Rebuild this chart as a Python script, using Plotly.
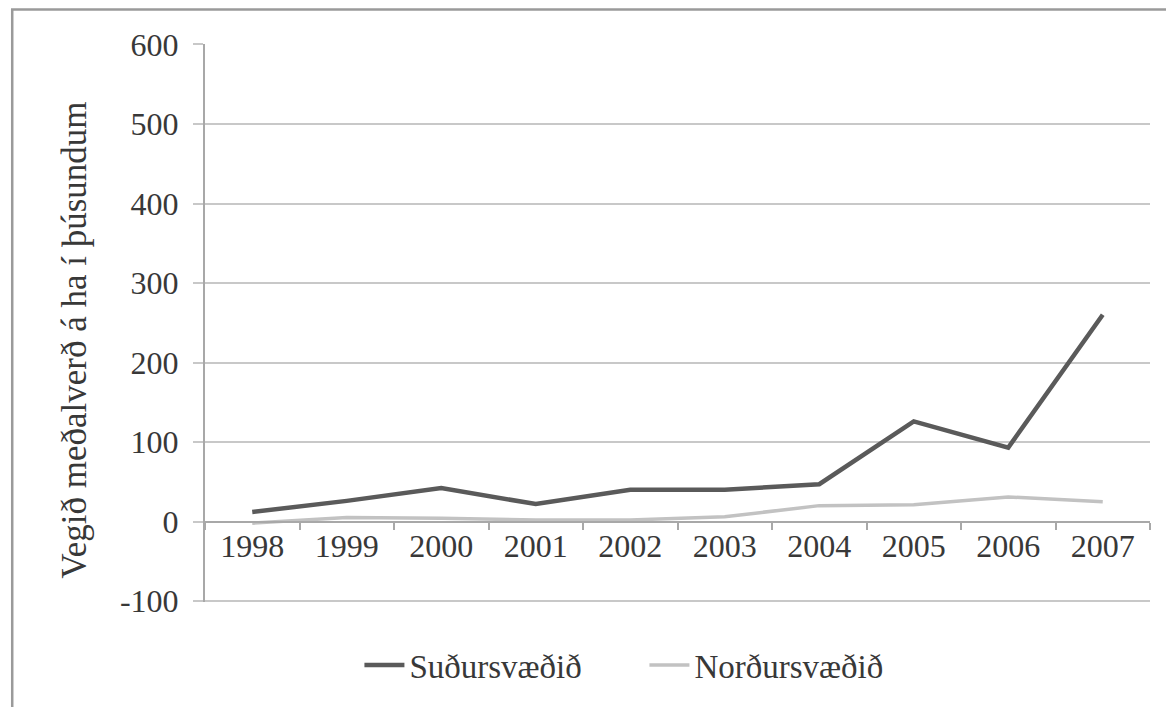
import plotly.graph_objects as go

years = ["1998", "1999", "2000", "2001", "2002", "2003", "2004", "2005", "2006", "2007"]
sudur = [12, 26, 42, 22, 40, 40, 47, 126, 93, 260]
nordur = [-2, 5, 4, 2, 2, 6, 20, 21, 31, 25]
y_ticks = [-100, 0, 100, 200, 300, 400, 500, 600]
y_labels = ["-100", "0", "100", "200", "300", "400", "500", "600"]
y_title = "Vegið meðalverð á ha í þúsundum"

FONT = "Liberation Serif, Times New Roman, serif"
TXT = "#383838"
GRID = "#c8c8c8"
YMIN, YMAX = -101.2, 600.6

fig = go.Figure()
fig.add_trace(go.Scatter(x=years, y=sudur, mode="lines", name="Suðursvæðið",
                         line=dict(color="#5a5a5a", width=4.5)))
fig.add_trace(go.Scatter(x=years, y=nordur, mode="lines", name="Norðursvæðið",
                         line=dict(color="#c2c2c2", width=3.5)))

fig.update_layout(
    width=1166, height=699,
    margin=dict(l=197, r=24, t=36, b=105),
    paper_bgcolor="white", plot_bgcolor="white",
    font=dict(family=FONT, size=32, color=TXT),
    showlegend=True,
    legend=dict(orientation="h", x=0.465, xanchor="center", y=-0.113, yanchor="middle",
                font=dict(family=FONT, size=33, color=TXT),
                itemwidth=40, entrywidth=230, tracegroupgap=0),
    xaxis=dict(
        type="category", categoryorder="array", categoryarray=years,
        range=[-0.5, 9.5],
        anchor="free", position=(0 - YMIN) / (YMAX - YMIN),
        showline=True, linecolor="#a8a8a8", linewidth=2,
        ticks="outside", tickson="boundaries", ticklen=7, tickcolor="#a8a8a8", tickwidth=2,
        ticklabelstandoff=-4,
        showgrid=False,
        tickfont=dict(family=FONT, size=32, color=TXT),
    ),
    yaxis=dict(
        range=[YMIN, YMAX], tickvals=y_ticks, ticktext=y_labels,
        showline=True, linecolor="#a8a8a8", linewidth=2,
        showgrid=True, gridcolor=GRID, gridwidth=2,
        zeroline=False,
        ticks="outside", ticklen=10, tickcolor=GRID, tickwidth=2,
        ticklabelstandoff=8,
        tickfont=dict(family=FONT, size=32, color=TXT),
    ),
    annotations=[
        dict(text=y_title, textangle=-90, xref="paper", yref="paper",
             x=-0.1376, y=0.47, xanchor="center", yanchor="middle", showarrow=False,
             font=dict(family=FONT, size=35, color=TXT)),
    ],
    shapes=[
        dict(type="rect", xref="paper", yref="paper",
             x0=-0.204, x1=1.2, y0=-0.4, y1=1.062,
             line=dict(color="#9a9a9a", width=2.5), fillcolor="rgba(0,0,0,0)",
             layer="below"),
        dict(type="line", xref="paper", yref="y", x0=0, x1=1, y0=y_ticks[0], y1=y_ticks[0],
             line=dict(color=GRID, width=2), layer="below"),
    ],
)

fig.write_html("out.html")
